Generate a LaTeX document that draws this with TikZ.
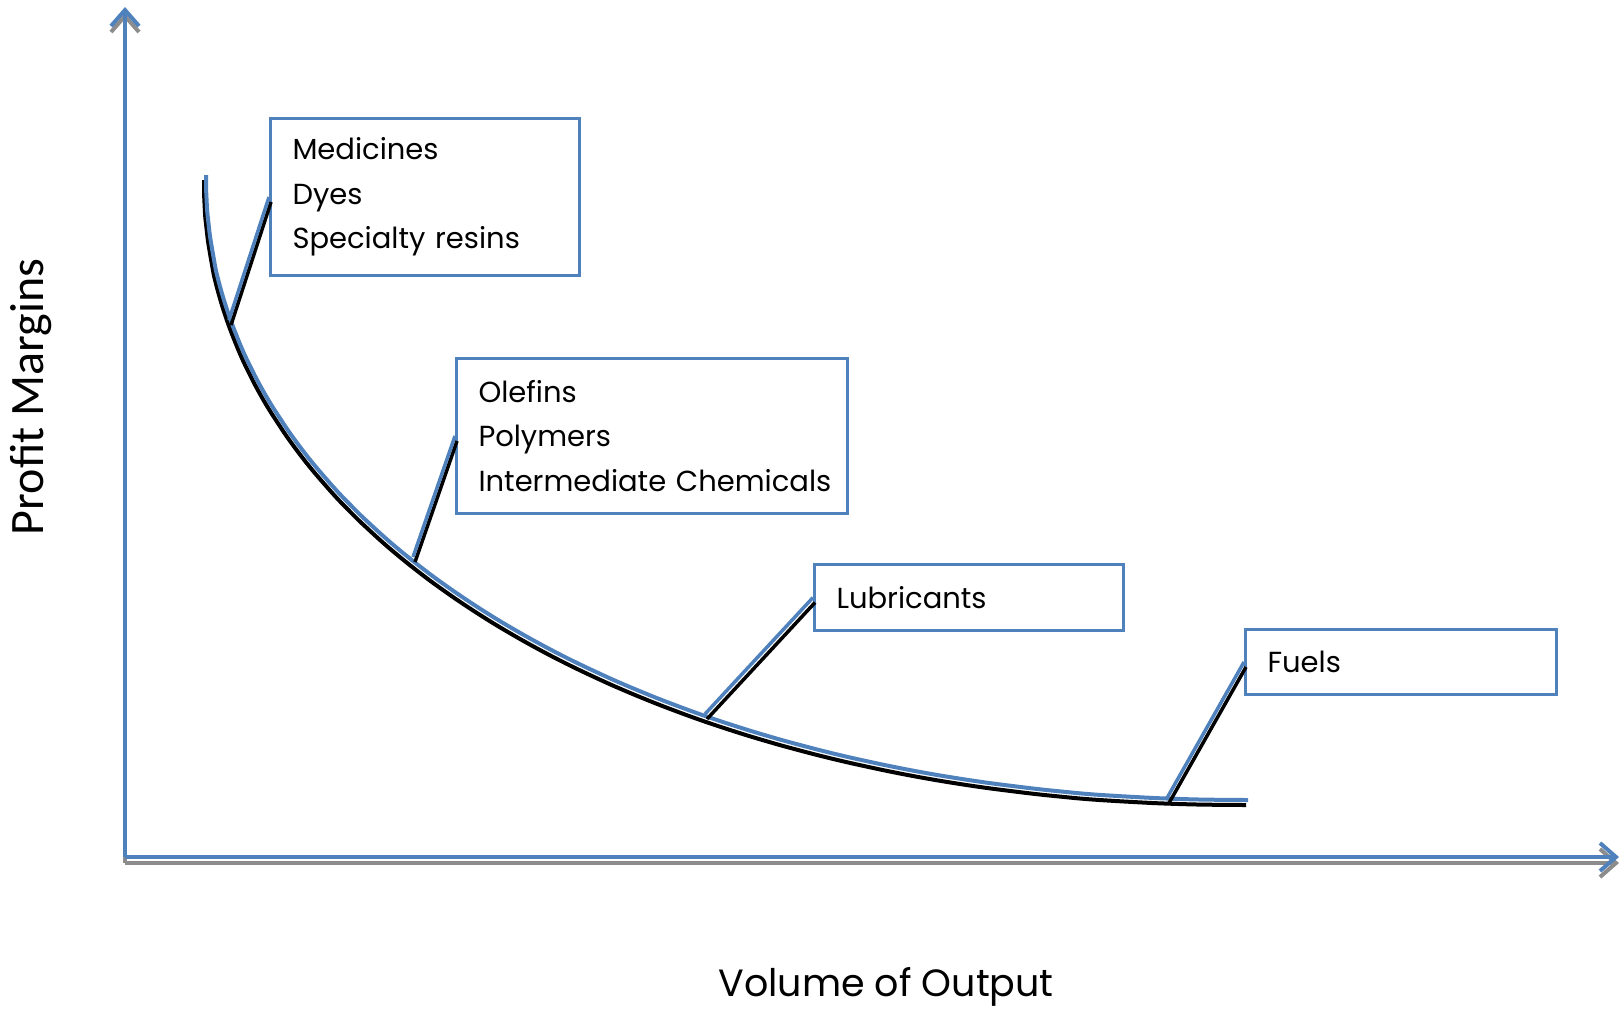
\documentclass[tikz,border=0pt]{standalone}
\usepackage{fontspec}
\setmainfont{Poppins}
\newfontfamily\axisfont{Carlito}
\usetikzlibrary{arrows.meta}
\definecolor{lineblue}{RGB}{79,129,189}
\definecolor{shadegray}{RGB}{140,140,140}

\begin{document}
\begin{tikzpicture}[x=1pt,y=-1pt,
    catbox/.style={draw=lineblue, line width=3, fill=white, anchor=north west,
      align=left, inner xsep=22, inner ysep=0,
      font=\fontsize{29}{44.5}\selectfont},
    axisline/.style={line width=4, -{Straight Barb[length=16,width=28]}}]
  \useasboundingbox (0,0) rectangle (1624,1010);

  % axes
  \coordinate (O) at (125,857);
  \coordinate (ytip) at (125,7);
  \coordinate (xtip) at (1619,857);
  \foreach \col/\dy in {shadegray/6, lineblue/0}{
    \draw[axisline, \col] ([yshift=-\dy]O) -- ([yshift=-\dy]ytip);
    \draw[axisline, \col] ([yshift=-\dy]O) -- ([yshift=-\dy]xtip);
  }

  % points on the curve
  \foreach \n/\x/\y in
  {c1/229/320, c2/413/557, c3/705/714, c4/1167/798}{
    \coordinate (\n) at (\x,\y);
  }

  % curve
  \foreach \col/\dx/\dy in {black/-2/-5, lineblue/0/0}{
    \draw[\col, line width=4, xshift=\dx, yshift=\dy]
      plot[domain=0:89.5, samples=90, smooth]
        ({1248-1042*cos(\x)^0.965}, {175+625*sin(\x)^0.965})
      -- (1248,800);
  }

  % boxes
  \foreach \n/\x/\y/\w/\h/\txt in
  {b1/269/117/309/157/{Medicines\\Dyes\\Specialty resins},
   b2/455/357/391/155/{Olefins\\Polymers\\\mbox{Intermediate Chemicals}},
   b3/813/563/309/66/{Lubricants},
   b4/1244/628/311/65/{Fuels}}{
    \node[catbox, minimum width=\w, minimum height=\h, text width=\w-44]
      (\n) at (\x,\y) {\txt};
  }

  % callouts
  \foreach \b/\c in {b1/c1, b2/c2, b3/c3, b4/c4}{
    \draw[black, line width=3.5] ([shift={(2,5)}]\b.west) -- ([shift={(2,5)}]\c);
    \draw[lineblue, line width=3.5] (\b.west) -- (\c);
  }

  % axis labels
  \node[font=\axisfont\fontsize{48}{48}\selectfont, rotate=90] (ylab) at (31,397) {Profit Margins};
  \node[font=\fontsize{38}{38}\selectfont] (xlab) at (886,987) {Volume of Output};
\end{tikzpicture}
\end{document}
